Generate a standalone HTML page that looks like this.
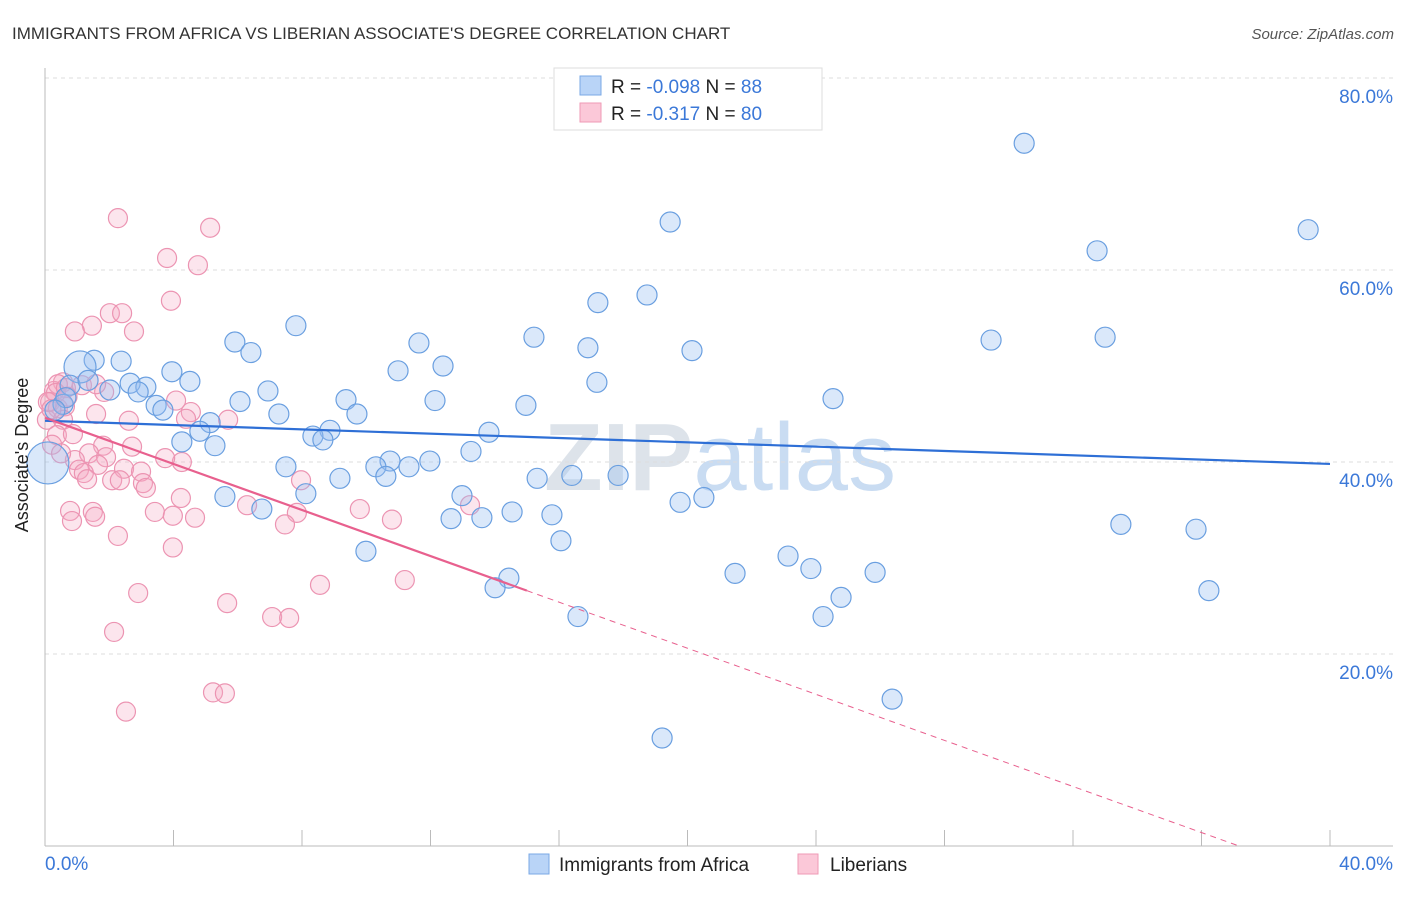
<!DOCTYPE html>
<html><head><meta charset="utf-8"><style>
body{margin:0;background:#fff;font-family:"Liberation Sans",sans-serif}
svg text{font-family:"Liberation Sans",sans-serif}
</style></head><body>
<svg id="chart" width="1406" height="892" viewBox="0 0 1406 892" xmlns="http://www.w3.org/2000/svg">
<text x="12" y="39" font-size="17" fill="#333">IMMIGRANTS FROM AFRICA VS LIBERIAN ASSOCIATE'S DEGREE CORRELATION CHART</text>
<text x="1394" y="39" font-size="15" fill="#555" font-style="italic" text-anchor="end">Source: ZipAtlas.com</text>
<text x="720" y="490" font-size="96" fill="#dde3ea" text-anchor="middle" font-family="Liberation Serif" font-weight="bold">ZIP<tspan fill="#c9dcf2" font-family="Liberation Sans" font-weight="normal">atlas</tspan></text>
<g id="grid"></g><g id="axes"></g><g id="pts"></g><g id="trends"></g>
<text x="28" y="455" font-size="18" fill="#222" text-anchor="middle" transform="rotate(-90 28 455)">Associate's Degree</text>
<g>
<rect x="554" y="68" width="268" height="62" fill="#fff" stroke="#ddd"/>
<rect x="580" y="76" width="21" height="19" fill="#b9d4f7" stroke="#7aa8e6"/>
<rect x="580" y="103" width="21" height="19" fill="#fbc8d8" stroke="#ef9ab6"/>
<text x="611" y="93" font-size="19" fill="#222">R = <tspan fill="#3b78d8">-0.098</tspan>   N = <tspan fill="#3b78d8">88</tspan></text>
<text x="611" y="120" font-size="19" fill="#222">R =  <tspan fill="#3b78d8">-0.317</tspan>   N = <tspan fill="#3b78d8">80</tspan></text>
</g>
<g>
<rect x="529" y="854" width="20" height="20" fill="#b9d4f7" stroke="#7aa8e6"/>
<text x="559" y="871" font-size="19" fill="#222">Immigrants from Africa</text>
<rect x="798" y="854" width="20" height="20" fill="#fbc8d8" stroke="#ef9ab6"/>
<text x="830" y="871" font-size="19" fill="#222">Liberians</text>
</g>
</svg>
<script>
const blueX=[30.48,19.46,39.32,32.75,18.74,17.21,7.81,15.22,29.45,33.0,5.91,11.64,16.9,20.14,6.41,2.37,1.53,1.09,3.95,10.99,12.39,17.18,4.51,2.65,3.14,2.02,2.9,6.94,9.37,12.14,14.97,24.53,6.07,3.46,3.67,9.71,7.28,5.14,4.82,8.87,8.34,8.65,13.82,4.26,5.29,13.26,11.98,10.74,10.3,11.33,7.5,9.18,10.61,15.32,16.4,17.84,12.98,5.6,8.12,19.77,20.51,6.75,14.54,13.6,12.64,15.78,33.49,35.83,16.06,9.99,23.13,23.84,21.48,25.84,14.44,14.01,24.78,36.23,16.59,24.22,26.37,19.21,0.56,0.78,0.09,0.65,0.31,1.34,23.25];
const blueY=[73.2,65.0,64.2,62.0,57.4,56.6,54.2,53.0,52.7,53.0,52.5,52.4,51.9,51.6,51.4,50.5,50.6,49.9,49.4,49.5,50.0,48.3,48.4,48.2,47.8,47.5,47.3,47.4,46.5,46.4,45.9,46.6,46.3,45.9,45.4,45.0,45.0,44.1,43.2,43.3,42.7,42.3,43.1,42.1,41.7,41.1,40.1,40.1,39.5,39.5,39.5,38.3,38.5,38.3,38.6,38.6,36.5,36.4,36.7,35.8,36.3,35.1,34.8,34.2,34.1,34.5,33.5,33.0,31.8,30.7,30.2,28.9,28.4,28.5,27.9,26.9,25.9,26.6,23.9,23.9,15.3,11.25,46.0,48.0,39.9,46.7,45.4,48.5,77.8];
const blueSize=blueX.map((v,i)=>i===17?16:(i===84?21:10));
const pinkX=[2.27,5.14,3.8,4.76,3.92,2.02,2.4,1.46,0.93,2.77,0.56,1.15,0.28,0.16,0.4,0.62,0.06,0.56,1.59,4.08,4.54,4.39,2.61,5.7,0.37,0.87,1.81,2.71,1.37,1.9,0.93,4.26,3.74,1.65,2.46,1.06,1.21,2.99,1.31,2.09,2.33,3.05,3.14,7.97,4.23,6.29,0.78,3.42,0.84,1.49,1.56,3.98,4.67,7.84,7.47,9.8,10.8,13.23,2.27,3.98,8.56,11.2,2.9,5.67,7.07,7.6,2.15,5.23,5.6,2.52,0.4,0.22,0.34,0.5,0.09,0.65,1.84,1.59,0.2,0.7];
const pinkY=[65.4,64.4,61.25,60.5,56.8,55.5,55.5,54.2,53.6,53.6,48.3,48.0,47.4,46.25,45.6,45.8,44.4,44.4,45.0,46.4,45.2,44.5,44.3,44.4,42.8,42.9,41.7,41.6,40.9,40.5,40.2,40.0,40.4,39.7,39.3,39.2,38.85,39.0,38.2,38.1,38.1,37.8,37.3,38.1,36.25,35.5,34.9,34.8,33.85,34.8,34.3,34.4,34.2,34.7,33.5,35.1,34.0,35.5,32.3,31.1,27.2,27.7,26.35,25.3,23.85,23.75,22.3,16.0,15.9,14.0,48.1,41.8,47.2,40.9,46.25,47.7,47.3,48.1,45.5,46.8];
const yTicks=[20,40,60,80];
const yTickLabels=["20.0%","40.0%","60.0%","80.0%"];
const xTicks=[0,4,8,12,16,20,24,28,32,36,40];
const xTickLabels=["0.0%","40.0%"];
const blueTrend=[44.3,39.8];
const pinkTrend=[44.6,-1.2];
const pinkSolidEnd=15.0;
const X0=45,X1=1330,Y0=846,Y80=78;
const sx=v=>X0+(X1-X0)*v/40;
const sy=v=>Y0-(Y0-Y80)*v/80;
const NS="http://www.w3.org/2000/svg";
function mk(tag,attrs,parent){const e=document.createElementNS(NS,tag);for(const k in attrs)e.setAttribute(k,attrs[k]);parent.appendChild(e);return e;}
const grid=document.getElementById('grid'),axes=document.getElementById('axes'),pts=document.getElementById('pts'),tr=document.getElementById('trends');
yTicks.forEach((t,i)=>{
 const l=mk('line',{x1:X0,x2:1393,y1:sy(t),y2:sy(t),stroke:'#ddd','stroke-dasharray':'4,4'},grid);
 
 
 const tx=mk('text',{x:1393,y:sy(t)+25,'font-size':19,fill:'#3b78d8','text-anchor':'end'},axes);
 tx.textContent=yTickLabels[i];
 
 
});
const ya=mk('line',{x1:X0,x2:X0,y1:68,y2:Y0,stroke:'#bbb'},axes);


const xa=mk('line',{x1:X0,x2:1393,y1:Y0,y2:Y0,stroke:'#bbb'},axes);


xTicks.forEach(t=>{
 const l=mk('line',{x1:sx(t),x2:sx(t),y1:Y0-16,y2:Y0,stroke:'#bbb'},axes);
 
 
});
const xl0=mk('text',{x:45,y:870,'font-size':19,fill:'#3b78d8'},axes);xl0.textContent=xTickLabels[0];


const xl1=mk('text',{x:1393,y:870,'font-size':19,fill:'#3b78d8','text-anchor':'end'},axes);xl1.textContent=xTickLabels[1];


pinkX.forEach((v,i)=>{
 const c=mk('circle',{cx:sx(v),cy:sy(pinkY[i]),r:9.5,fill:'rgba(246,170,196,0.3)',stroke:'#ec94b2','stroke-width':1.2},pts);
 
 
});
blueX.forEach((v,i)=>{
 const c=mk('circle',{cx:sx(v),cy:sy(blueY[i]),r:blueSize[i],fill:'rgba(150,190,240,0.35)',stroke:'#6a9fe0','stroke-width':1.2},pts);
 
 
});
const bt=mk('line',{x1:sx(0),y1:sy(blueTrend[0]),x2:sx(40),y2:sy(blueTrend[1]),stroke:'#2e6fd6','stroke-width':2.2},tr);


const pe=-pinkTrend[0]/pinkTrend[1];
const pt=mk('line',{x1:sx(0),y1:sy(pinkTrend[0]),x2:sx(pinkSolidEnd),y2:sy(pinkTrend[0]+pinkTrend[1]*pinkSolidEnd),stroke:'#e8608e','stroke-width':2.2},tr);


const pd=mk('line',{x1:sx(pinkSolidEnd),y1:sy(pinkTrend[0]+pinkTrend[1]*pinkSolidEnd),x2:sx(pe),y2:sy(0),stroke:'#e8608e','stroke-width':1,'stroke-dasharray':'6,5'},tr);


</script>
</body></html>
